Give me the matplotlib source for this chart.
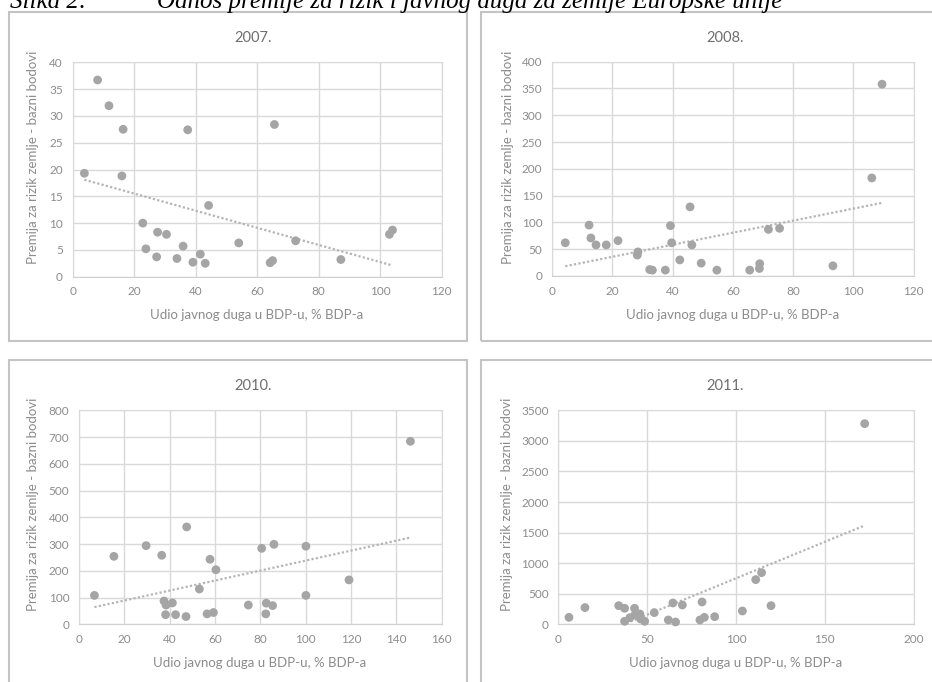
import numpy as np
import matplotlib
matplotlib.use("Agg")
import matplotlib.pyplot as plt
from matplotlib.patches import Rectangle

# 2007.
x_2007 = [8.1, 11.8, 16.4, 3.8, 16.0, 37.4, 65.6, 44.2, 22.8, 27.6, 30.5, 23.8, 35.9,
          27.3, 33.9, 39.1, 41.5, 43.1, 54.0, 64.2, 65.0, 72.5, 87.2, 103.0, 104.0]
y_2007 = [36.7, 31.9, 27.5, 19.3, 18.8, 27.4, 28.4, 13.3, 10.0, 8.3, 7.9, 5.2, 5.7,
          3.7, 3.4, 2.7, 4.2, 2.5, 6.3, 2.6, 3.0, 6.7, 3.2, 7.9, 8.7]

# 2008.
x_2008 = [4.4, 12.3, 12.9, 14.6, 18.0, 21.9, 28.5, 28.3, 32.4, 33.3, 37.6, 39.3, 39.7,
          42.4, 45.8, 46.4, 49.5, 54.7, 65.6, 68.8, 68.9, 71.8, 75.5, 93.2, 106.1, 109.5]
y_2008 = [62, 95, 71, 58, 58, 66, 45, 39, 12, 11, 11, 94, 62,
          30, 129, 58, 24, 11, 11, 14, 23, 87, 89, 19, 183, 358]

# 2010.
x_2010 = [6.8, 15.4, 29.6, 36.5, 47.5, 37.5, 38.4, 41.2, 38.2, 42.6, 47.2, 53.1, 57.8,
          60.4, 56.5, 59.3, 74.7, 80.6, 86.0, 82.6, 85.4, 82.4, 100.1, 100.1, 119.1, 146.2]
y_2010 = [108, 254, 294, 258, 364, 87, 72, 80, 36, 36, 29, 132, 243,
          204, 39, 44, 72, 284, 299, 79, 70, 39, 292, 108, 166, 684]

# 2011.
x_2011 = [6.0, 15.0, 34.0, 37.3, 37.3, 40.3, 42.9, 43.1, 45.9, 46.3, 48.6, 54.0, 61.9,
          64.5, 66.0, 69.8, 79.7, 80.9, 82.2, 88.0, 103.6, 111.1, 114.4, 119.7, 172.4]
y_2011 = [114, 273, 305, 262, 49, 109, 262, 153, 169, 87, 49, 191, 71,
          349, 38, 316, 71, 365, 114, 125, 218, 731, 845, 305, 3282]

titles = ["2007.", "2008.", "2010.", "2011."]
x_limits = [(0, 120), (0, 120), (0, 160), (0, 200)]
x_steps = [20, 20, 20, 50]
y_limits = [(0, 40), (0, 400), (0, 800), (0, 3500)]
y_steps = [5, 50, 100, 500]

W, H = 932, 682
plt.rcParams['font.family'] = ['Lato', 'DejaVu Sans']

POINT = '#a5a5a5'
GRID = '#d9d9d9'
TICK = '#8c8c8c'
LABEL = '#8c8c8c'
TITLE = '#6f6f6f'
FRAME = '#c4c4c4'


def fx(px):
    return px / W


def fy(py):
    return 1 - py / H


def add_axes_px(fig, left, top, right, bottom):
    return fig.add_axes([fx(left), fy(bottom), fx(right) - fx(left), fy(top) - fy(bottom)])


def draw_panel(ax, x, y, xlim, xstep, ylim, ystep):
    ax.scatter(x, y, s=40, color=POINT, edgecolor='none', zorder=3, clip_on=False)
    # linear trend line, as Excel draws it
    k, b = np.polyfit(x, y, 1)
    xs = np.array([min(x), max(x)])
    ax.plot(xs, k * xs + b, color='#b5b5b5', lw=1.6, linestyle=(0, (1, 1)), zorder=2)
    ax.set_xlim(*xlim)
    ax.set_ylim(*ylim)
    ax.set_xticks(np.arange(xlim[0], xlim[1] + 1, xstep))
    ax.set_yticks(np.arange(ylim[0], ylim[1] + 1, ystep))
    ax.grid(True, color=GRID, lw=1)
    ax.set_axisbelow(True)
    for s in ax.spines.values():
        s.set_color(GRID)
    ax.spines['bottom'].set_color('#d0d0d0')
    ax.tick_params(length=0, labelsize=8.5, colors=TICK)
    ax.tick_params(axis='y', pad=7)
    ax.tick_params(axis='x', pad=7)


fig = plt.figure(figsize=(W / 100, H / 100), dpi=100)

# chart frames
frames = [(9, 12, 467, 341), (481, 12, 940, 341), (9, 360, 467, 690), (481, 360, 940, 690)]
for l, t, r, b in frames:
    fig.patches.append(Rectangle((fx(l), fy(b)), fx(r) - fx(l), fy(t) - fy(b),
                                 transform=fig.transFigure, fill=False,
                                 edgecolor=FRAME, lw=1.5))

# plot areas, title / label positions in pixels
areas = [(72.7, 62.3, 441.7, 276.7), (552, 61.7, 913.7, 276),
         (79, 410.3, 441.7, 624.3), (558.3, 410.3, 913.7, 624.3)]
title_pos = [(253, 38), (725, 38), (253, 386), (725, 386)]
xlabel_pos = [(257, 315), (733, 315), (260, 663), (736, 663)]
ylabel_pos = [(33, 157), (508, 157), (33, 504), (507, 504)]

data = [(x_2007, y_2007), (x_2008, y_2008), (x_2010, y_2010), (x_2011, y_2011)]

for i, (x, y) in enumerate(data):
    ax = add_axes_px(fig, *areas[i])
    draw_panel(ax, x, y, x_limits[i], x_steps[i], y_limits[i], y_steps[i])
    fig.text(fx(title_pos[i][0]), fy(title_pos[i][1]), titles[i], ha='center', va='center',
             fontsize=10.5, color=TITLE)
    fig.text(fx(xlabel_pos[i][0]), fy(xlabel_pos[i][1]), 'Udio javnog duga u BDP-u, % BDP-a',
             ha='center', va='center', fontsize=9.5, color=LABEL)
    fig.text(fx(ylabel_pos[i][0]), fy(ylabel_pos[i][1]), 'Premija za rizik zemlje - bazni bodovi',
             ha='center', va='center', rotation=90, fontsize=9.5, color=LABEL)

# figure caption, cut at the top edge as in the scanned page
fig.text(fx(10), fy(8), 'Slika 2:', ha='left', va='baseline', fontsize=18,
         style='italic', family='Liberation Serif', color='black')
fig.text(fx(157), fy(8), 'Odnos premije za rizik i javnog duga za zemlje Europske unije',
         ha='left', va='baseline', fontsize=18, style='italic', family='Liberation Serif',
         color='black')

fig.savefig('out.png', dpi=100)
